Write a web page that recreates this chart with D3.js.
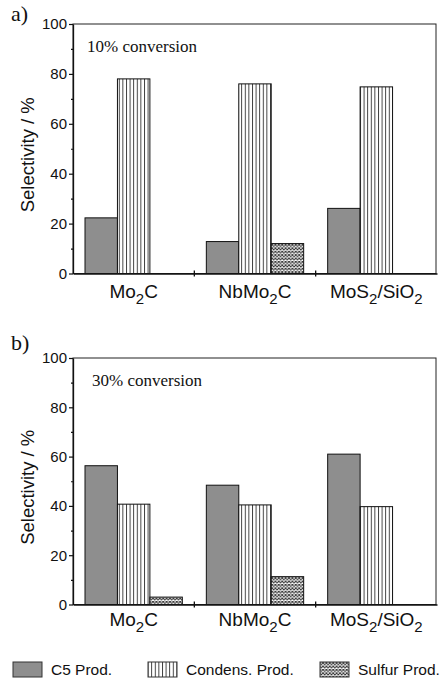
<!DOCTYPE html>
<html>
<head>
<meta charset="utf-8">
<script src="https://cdn.jsdelivr.net/npm/d3@7"></script>
<style>
  html, body { margin: 0; padding: 0; background: #fff; }
  svg { display: block; }
</style>
</head>
<body>
<svg id="chart" width="443" height="679"></svg>
<script>
// ---- data ----
const categories = ["Mo2C", "NbMo2C", "MoS2/SiO2"];
const seriesNames = ["C5 Prod.", "Condens. Prod.", "Sulfur Prod."];
const panelLabels = ["a)", "b)"];
const conversionLabels = ["10% conversion", "30% conversion"];
// panel a (10% conversion)
const c5A = [22.3, 12.8, 26.1];
const condensA = [78.0, 76.0, 74.8];
const sulfurA = [0, 12.0, 0];
// panel b (30% conversion)
const c5B = [56.3, 48.4, 61.0];
const condensB = [40.7, 40.4, 39.7];
const sulfurB = [3.0, 11.3, 0];
const yTicks = [0, 20, 40, 60, 80, 100];
const yMinorTicks = [10, 30, 50, 70, 90];
const yTitle = "Selectivity / %";

// ---- drawing ----
const svg = d3.select("#chart");
const defs = svg.append("defs");

// vertical-line pattern
const pv = defs.append("pattern").attr("id", "vlines")
  .attr("patternUnits", "userSpaceOnUse").attr("width", 3.6).attr("height", 10);
pv.append("rect").attr("width", 3.6).attr("height", 10).attr("fill", "#fff");
pv.append("line").attr("x1", 0.5).attr("x2", 0.5).attr("y1", 0).attr("y2", 10)
  .attr("stroke", "#222").attr("stroke-width", 0.9);

// crosshatch pattern
const pc = defs.append("pattern").attr("id", "xhatch")
  .attr("patternUnits", "userSpaceOnUse").attr("width", 3.4).attr("height", 3.4);
pc.append("rect").attr("width", 3.4).attr("height", 3.4).attr("fill", "#fff");
pc.append("path").attr("d", "M0,0L3.4,3.4M3.4,0L0,3.4")
  .attr("stroke", "#333").attr("stroke-width", 1.0);

const fills = ["#8e8e8e", "url(#vlines)", "url(#xhatch)"];

const panels = [
  { top: 24, bottom: 273.5, label: panelLabels[0], labelY: 21, conv: conversionLabels[0], convX: 87, convY: 52,
    values: [c5A, condensA, sulfurA], catY: 297.5 },
  { top: 358, bottom: 604.5, label: panelLabels[1], labelY: 350, conv: conversionLabels[1], convX: 92, convY: 386,
    values: [c5B, condensB, sulfurB], catY: 626 }
];

const x0 = 73, x1 = 437;
const sans = "'Liberation Sans', Arial, sans-serif";
const serif = "'Liberation Serif', 'Times New Roman', serif";

const x = d3.scaleBand().domain(categories).range([x0, x1]).padding(0);
const xi = d3.scaleBand().domain(seriesNames).range([0, x.bandwidth()])
  .paddingInner(0).paddingOuter(0.37);

panels.forEach(p => {
  const y = d3.scaleLinear().domain([0, 100]).range([p.bottom, p.top]);
  const g = svg.append("g");

  // bars
  seriesNames.forEach((s, si) => {
    g.selectAll(null).data(categories.map((c, ci) => ({ c, v: p.values[si][ci] })).filter(d => d.v > 0))
      .enter().append("rect")
      .attr("x", d => x(d.c) + xi(s))
      .attr("y", d => y(d.v))
      .attr("width", xi.bandwidth())
      .attr("height", d => y(0) - y(d.v))
      .attr("fill", fills[si])
      .attr("stroke", "#111").attr("stroke-width", 1);
  });

  // frame
  g.append("rect").attr("x", x0).attr("y", y(100)).attr("width", 436 - x0).attr("height", y(0) - y(100))
    .attr("fill", "none").attr("stroke", "#222").attr("stroke-width", 1);

  // y axis
  const ya = g.append("g").attr("transform", `translate(${x0},0)`)
    .call(d3.axisLeft(y).tickValues(yTicks).tickSize(4).tickSizeOuter(0).tickPadding(2));
  ya.select(".domain").attr("stroke", "#111").attr("stroke-width", 1.3);
  ya.selectAll("line").attr("stroke", "#111").attr("stroke-width", 1.2);
  ya.selectAll("text").attr("font-family", sans).attr("font-size", 15).attr("fill", "#111");
  const ym = g.append("g").attr("transform", `translate(${x0},0)`)
    .call(d3.axisLeft(y).tickValues(yMinorTicks).tickSize(2).tickFormat(""));
  ym.select(".domain").remove();
  ym.selectAll("line").attr("stroke", "#111").attr("stroke-width", 1.2);

  // x axis
  const xa = g.append("g").attr("transform", `translate(0,${y(0)})`)
    .call(d3.axisBottom(x).tickValues([]).tickSizeOuter(0));
  xa.select(".domain").attr("stroke", "#111").attr("stroke-width", 1.3);
  categories.slice(1).forEach(c => {
    g.append("line").attr("x1", x(c)).attr("x2", x(c)).attr("y1", y(0) - 3).attr("y2", y(0) + 3)
      .attr("stroke", "#111").attr("stroke-width", 1.3);
  });

  // category labels with subscripts
  categories.forEach(c => {
    const t = g.append("text").attr("x", x(c) + x.bandwidth() / 2).attr("y", p.catY)
      .attr("text-anchor", "middle").attr("font-family", sans).attr("font-size", 19).attr("fill", "#111");
    const parts = c.match(/[0-9]+|[^0-9]+/g);
    let sub = false;
    parts.forEach(part => {
      const isNum = /^[0-9]+$/.test(part);
      const ts = t.append("tspan").text(part);
      if (isNum && !sub) { ts.attr("dy", 6).attr("font-size", 15); sub = true; }
      else if (!isNum && sub) { ts.attr("dy", -6); sub = false; }
    });
  });

  // y title
  g.append("text")
    .attr("transform", `translate(34,${(p.top + p.bottom) / 2 + 6}) rotate(-90)`)
    .attr("text-anchor", "middle").attr("font-family", sans).attr("font-size", 18.5).attr("fill", "#111")
    .text(yTitle);

  // panel label
  g.append("text").attr("x", 11).attr("y", p.labelY).attr("font-family", serif).attr("font-size", 22)
    .attr("fill", "#111").text(p.label);

  // conversion label
  g.append("text").attr("x", p.convX).attr("y", p.convY).attr("font-family", serif).attr("font-size", 17)
    .attr("fill", "#111").text(p.conv);
});

// legend
const legendX = [13, 148, 320];
const lg = svg.append("g");
seriesNames.forEach((s, i) => {
  lg.append("rect").attr("x", legendX[i]).attr("y", 662).attr("width", 29).attr("height", 15)
    .attr("fill", fills[i]).attr("stroke", "#333").attr("stroke-width", 1);
  lg.append("text").attr("x", legendX[i] + 38).attr("y", 675).attr("font-family", sans)
    .attr("font-size", 15.5).attr("fill", "#111").text(s);
});
</script>
</body>
</html>
